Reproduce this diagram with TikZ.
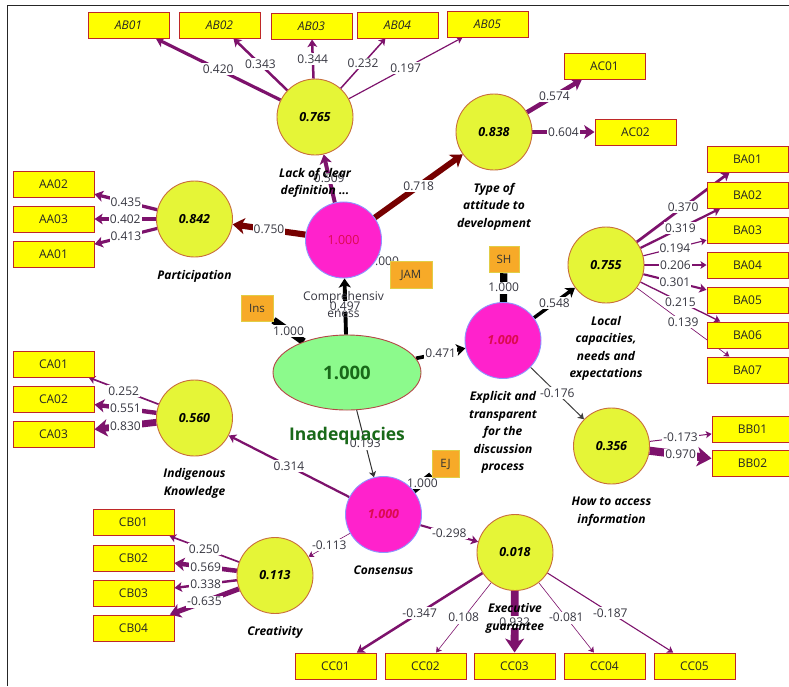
\documentclass[tikz,border=0pt]{standalone}
\usepackage{fontspec}
\setmainfont{Open Sans}
\usetikzlibrary{arrows.meta,shapes.geometric}

\pgfdeclarelayer{canvas}
\pgfdeclarelayer{edges}
\pgfdeclarelayer{labels}
\pgfsetlayers{canvas,edges,labels,main}

\definecolor{lvfill}{RGB}{229,245,55}
\definecolor{lvdraw}{RGB}{200,110,60}
\definecolor{pinkfill}{RGB}{255,34,204}
\definecolor{pinkdraw}{RGB}{140,150,255}
\definecolor{pinktext}{RGB}{220,10,80}
\definecolor{ellfill}{RGB}{140,250,140}
\definecolor{elldraw}{RGB}{180,70,70}
\definecolor{greentext}{RGB}{25,105,25}
\definecolor{mvfill}{RGB}{255,255,0}
\definecolor{mvdraw}{RGB}{190,40,40}
\definecolor{orfill}{RGB}{247,170,40}
\definecolor{ordraw}{RGB}{225,205,70}
\definecolor{pathmaroon}{RGB}{118,0,0}
\definecolor{loadpurple}{RGB}{125,18,108}
\definecolor{lbltext}{RGB}{55,55,65}

\tikzset{
  lv/.style={circle, minimum size=76pt, inner sep=0pt, fill=lvfill, draw=lvdraw,
    line width=0.9pt, font=\fontsize{12.5}{15}\selectfont\bfseries\itshape},
  lvpink/.style={lv, fill=pinkfill, draw=pinkdraw, text=pinktext},
  mv/.style={rectangle, minimum width=81pt, minimum height=26pt, inner sep=0pt,
    fill=mvfill, draw=mvdraw, line width=1pt, text=black!85,
    font=\fontsize{12}{14}\selectfont},
  mvital/.style={mv, font=\fontsize{12}{14}\selectfont\itshape},
  orbox/.style={rectangle, inner sep=0pt, fill=orfill, draw=ordraw, line width=1pt,
    minimum height=26.5pt, text=black!80, font=\fontsize{11.5}{14}\selectfont},
  lvname/.style={anchor=north, align=center, inner sep=0pt,
    font=\fontsize{12}{17.5}\selectfont\bfseries\itshape},
  elbl/.style={fill=white, inner xsep=1pt, inner ysep=1.5pt, text=lbltext,
    font=\fontsize{12}{14}\selectfont},
  headarrow/.style={-{Stealth[length=4.5pt 1.2, width=5.5pt 1.7, inset=1pt 0.35]}}
}

% weighted arrow with its coefficient at the middle of the visible segment
\newcommand\linkedge[5]{%
  \begin{pgfonlayer}{edges}
    \draw[line width=#3pt, draw=#4, headarrow] (#1) -- (#2);
  \end{pgfonlayer}
  \begin{pgfonlayer}{labels}
    \path (#1) -- node[elbl] {#5} (#2);
  \end{pgfonlayer}}
% single-item link without a visible head
\newcommand\itemedge[3]{%
  \begin{pgfonlayer}{edges}
    \draw[line width=7.2pt, draw=black] (#1) -- (#2);
  \end{pgfonlayer}
  \begin{pgfonlayer}{labels}
    \path (#1) -- node[elbl] {#3} (#2);
  \end{pgfonlayer}}

\begin{document}
\begin{tikzpicture}[x=1pt, y=-1pt]
\useasboundingbox (0,0) rectangle (789,686);
\begin{pgfonlayer}{canvas}
  \fill[white] (0,0) rectangle (789,686);
\end{pgfonlayer}
\draw[line width=1pt, black!85] (7,686) -- (7,5) -- (789,5);

% indicator boxes
\node[mvital] (ab01) at (128.5,25) {AB01};
\node[mvital] (ab02) at (219.5,25) {AB02};
\node[mvital] (ab03) at (311.5,26) {AB03};
\node[mvital] (ab04) at (397.5,25) {AB04};
\node[mvital] (ab05) at (487.5,24) {AB05};
\node[mv] (ac01) at (604.5,66) {AC01};
\node[mv] (ac02) at (635.5,132) {AC02};
\node[mv] (aa02) at (53.5,184) {AA02};
\node[mv] (aa03) at (53.5,219) {AA03};
\node[mv] (aa01) at (53.5,254.5) {AA01};
\node[mv] (ba01) at (747.5,159) {BA01};
\node[mv] (ba02) at (747.5,195) {BA02};
\node[mv] (ba03) at (747.5,230) {BA03};
\node[mv] (ba04) at (747.5,265) {BA04};
\node[mv] (ba05) at (747.5,300) {BA05};
\node[mv] (ba06) at (747.5,335) {BA06};
\node[mv] (ba07) at (747.5,370) {BA07};
\node[mv] (bb01) at (752.5,429) {BB01};
\node[mv] (bb02) at (752.5,463.5) {BB02};
\node[mv] (ca01) at (53.5,364) {CA01};
\node[mv] (ca02) at (53.5,399) {CA02};
\node[mv] (ca03) at (53.5,434) {CA03};
\node[mv] (cb01) at (133.5,522.5) {CB01};
\node[mv] (cb02) at (133.5,558) {CB02};
\node[mv] (cb03) at (133.5,593) {CB03};
\node[mv] (cb04) at (133.5,628) {CB04};
\node[mv] (cc01) at (335.5,666) {CC01};
\node[mv] (cc02) at (425.5,666) {CC02};
\node[mv] (cc03) at (514.5,666) {CC03};
\node[mv] (cc04) at (604.5,666) {CC04};
\node[mv] (cc05) at (694.5,666) {CC05};

% single-item boxes
\node[orbox, minimum width=32pt] (ins) at (257,308.5) {Ins};
\node[orbox, minimum width=42pt] (jam) at (411,275) {JAM};
\node[orbox, minimum width=30pt] (sh) at (504,259.5) {SH};
\node[orbox, minimum width=27pt] (ej) at (445.5,464) {EJ};

% constructs
\node[lv] (lab) at (315,117) {0.765};
\node[lv] (lac) at (494,132) {0.838};
\node[lv] (laa) at (194.5,219) {0.842};
\node[lvpink, font=\fontsize{12.5}{15}\selectfont] (lcomp) at (343.5,240) {1.000};
\node[lv] (lba) at (606,265) {0.755};
\node[lvpink] (lexp) at (503,340.5) {1.000};
\node[lv] (lbb) at (611.5,446) {0.356};
\node[ellipse, minimum width=148pt, minimum height=75pt, inner sep=0pt, fill=ellfill,
  draw=elldraw, line width=0.9pt, text=greentext,
  font=\fontsize{18.5}{21}\selectfont\bfseries] (ell) at (347,372.5) {1.000};
\node[lv] (lca) at (194.5,418) {0.560};
\node[lvpink] (lcons) at (383.5,514.5) {1.000};
\node[lv] (lcre) at (275,575.5) {0.113};
\node[lv] (lexe) at (515,552.5) {0.018};

% construct names
\node[lvname] (nlab) at ([yshift=-12.5pt]lab.south) {Lack of clear\\definition ...};
\node[lvname] (nlac) at ([yshift=-12.5pt]lac.south) {Type of\\attitude to\\development};
\node[lvname] (nlaa) at ([yshift=-12.5pt]laa.south) {Participation};
\node[lvname, font=\fontsize{12}{17.5}\selectfont, text=lbltext] (nlcomp)
  at ([yshift=-12.5pt]lcomp.south) {Comprehensiv\\eness};
\node[lvname] (nlba) at ([yshift=-12.5pt]lba.south) {Local\\capacities,\\needs and\\expectations};
\node[lvname] (nlexp) at ([yshift=-12.5pt]lexp.south) {Explicit and\\transparent\\for the\\discussion\\process};
\node[lvname] (nlbb) at ([yshift=-12.5pt]lbb.south) {How to access\\information};
\node[anchor=base, inner sep=0pt, text=greentext, font=\fontsize{17.5}{20}\selectfont\bfseries]
  (nell) at (347,440.5) {Inadequacies};
\node[lvname] (nlca) at ([yshift=-12pt]lca.south) {Indigenous\\Knowledge};
\node[lvname] (nlcons) at ([yshift=-12.5pt]lcons.south) {Consensus};
\node[lvname] (nlcre) at ([yshift=-12.5pt]lcre.south) {Creativity};
\node[lvname] (nlexe) at ([yshift=-12.5pt]lexe.south) {Executive\\guarantee};

% outer loadings
\linkedge{lab}{ab01}{3.18}{loadpurple}{0.420}
\linkedge{lab}{ab02}{2.49}{loadpurple}{0.343}
\linkedge{lab}{ab03}{2.5}{loadpurple}{0.344}
\linkedge{lab}{ab04}{1.49}{loadpurple}{0.232}
\linkedge{lab}{ab05}{1.17}{loadpurple}{0.197}
\linkedge{lac}{ac01}{4.57}{loadpurple}{0.574}
\linkedge{lac}{ac02}{4.84}{loadpurple}{0.604}
\linkedge{laa}{aa02}{3.32}{loadpurple}{0.435}
\linkedge{laa}{aa03}{3.02}{loadpurple}{0.402}
\linkedge{laa}{aa01}{3.12}{loadpurple}{0.413}
\linkedge{lba}{ba01}{2.73}{loadpurple}{0.370}
\linkedge{lba}{ba02}{2.27}{loadpurple}{0.319}
\linkedge{lba}{ba03}{1.15}{loadpurple}{0.194}
\linkedge{lba}{ba04}{1.25}{loadpurple}{0.206}
\linkedge{lba}{ba05}{2.11}{loadpurple}{0.301}
\linkedge{lba}{ba06}{1.34}{loadpurple}{0.215}
\linkedge{lba}{ba07}{0.65}{loadpurple}{0.139}
\linkedge{lbb}{bb01}{0.96}{loadpurple}{-0.173}
\linkedge{lbb}{bb02}{8.1}{loadpurple}{0.970}
\linkedge{lca}{ca01}{1.67}{loadpurple}{0.252}
\linkedge{lca}{ca02}{4.36}{loadpurple}{0.551}
\linkedge{lca}{ca03}{6.87}{loadpurple}{0.830}
\linkedge{lcre}{cb01}{1.65}{loadpurple}{0.250}
\linkedge{lcre}{cb02}{4.52}{loadpurple}{0.569}
\linkedge{lcre}{cb03}{2.44}{loadpurple}{0.338}
\linkedge{lcre}{cb04}{5.12}{loadpurple}{-0.635}
\linkedge{lexe}{cc01}{2.52}{loadpurple}{-0.347}
\linkedge{lexe}{cc02}{0.6}{loadpurple}{0.108}
\linkedge{lexe}{cc03}{7.79}{loadpurple}{0.932}
\linkedge{lexe}{cc04}{0.6}{loadpurple}{-0.081}
\linkedge{lexe}{cc05}{1.08}{loadpurple}{-0.187}

% single-item links
\itemedge{ell}{ins}{1.000}
\itemedge{lcomp}{jam}{1.000}
\itemedge{lexp}{sh}{1.000}
\itemedge{lcons}{ej}{1.000}

% path coefficients
\linkedge{lcomp}{laa}{6.15}{pathmaroon}{0.750}
\linkedge{lcomp}{lac}{5.86}{pathmaroon}{0.718}
\linkedge{lcomp}{lab}{3.98}{loadpurple}{0.509}
\linkedge{ell}{lcomp}{3.87}{black}{0.497}
\linkedge{ell}{lexp}{3.64}{black}{0.471}
\linkedge{ell}{lcons}{1.0}{black!80}{0.193}
\linkedge{lexp}{lba}{3.5}{black}{0.548}
\linkedge{lexp}{lbb}{1.0}{black!75}{-0.176}
\linkedge{lcons}{lca}{2.23}{loadpurple}{0.314}
\linkedge{lcons}{lcre}{0.6}{loadpurple}{-0.113}
\linkedge{lcons}{lexe}{2.08}{loadpurple}{-0.298}
\end{tikzpicture}
\end{document}
